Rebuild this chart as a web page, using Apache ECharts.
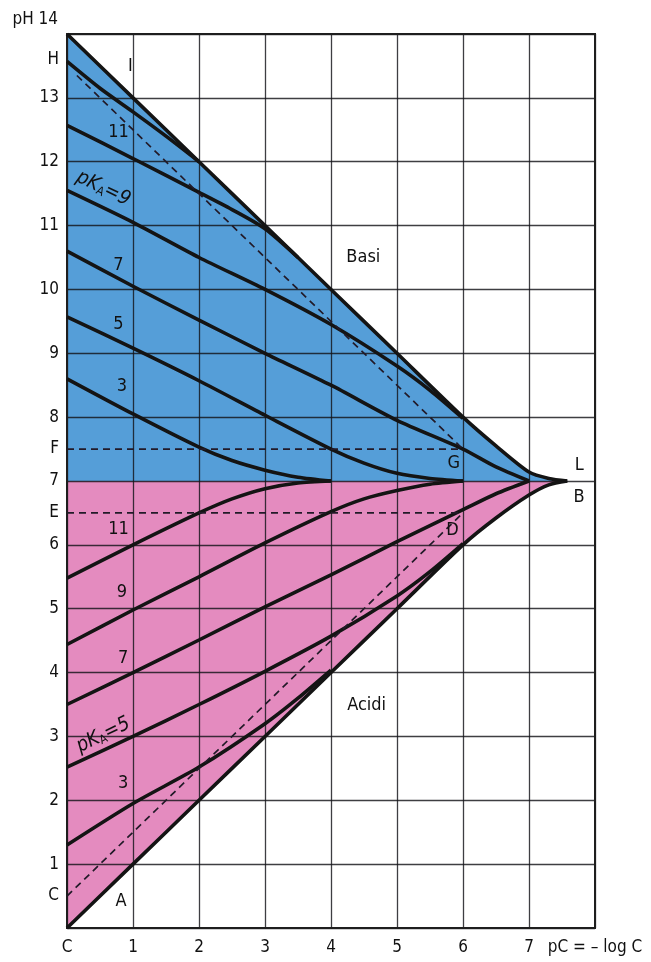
<!DOCTYPE html>
<html>
<head>
<meta charset="utf-8">
<script src="https://cdn.jsdelivr.net/npm/echarts@6/dist/echarts.min.js"></script>
<style>html,body{margin:0;padding:0;background:#fff}#main{width:651px;height:962px}</style>
</head>
<body>
<div id="main"></div>
<script>
// pH di soluzioni di acidi e basi in funzione di pC = -log C
var xTickValues = [0, 1, 2, 3, 4, 5, 6, 7, 8];
var xTickLabels = ['C', '1', '2', '3', '4', '5', '6', '7', 'pC = \u2013 log C'];
var yTickValues = [0.5, 1, 2, 3, 4, 5, 6, 6.5, 7, 7.5, 8, 9, 10, 11, 12, 13, 13.6];
var yTickLabels = ['C', '1', '2', '3', '4', '5', '6', 'E', '7', 'F', '8', '9', '10', '11', '12', '13', 'H'];

// boundaries: strong base (top) and strong acid (bottom)
var strongBase = [[0,14],[1,13],[2,12],[3,11],[4,10],[5,9],[6,8],[6.5,7.55],[7,7.14],[7.3,7.04],[7.58,7]];
var strongAcid = [[0,0],[1,1],[2,2],[3,3],[4,4],[5,5],[6,6],[6.5,6.42],[7,6.78],[7.3,6.94],[7.58,7]];

// weak bases (pKA of the conjugate acid)
var base13 = [[0,13.57],[0.5,13.15],[1,12.78],[1.5,12.4],[2,12]];
var base11 = [[0,12.57],[1,12.05],[2,11.52],[2.5,11.25],[3,10.95],[3.5,10.5]];
var base9 = [[0,11.55],[1,11.05],[2,10.5],[3,10],[4,9.45],[5,8.8],[5.5,8.42],[6,7.98]];
var base7 = [[0,10.6],[1,10.05],[2,9.52],[3,9],[4,8.5],[5,7.95],[6,7.5],[6.5,7.22],[7,7]];
var base5 = [[0,9.57],[1,9.08],[2,8.57],[3,8.03],[4,7.5],[4.5,7.28],[5,7.12],[5.5,7.04],[6,7]];
var base3 = [[0,8.6],[1,8.05],[2,7.53],[2.5,7.32],[3,7.17],[3.5,7.06],[4,7]];

// weak acids
var acid11 = [[0,5.48],[1,6],[2,6.5],[2.5,6.72],[3,6.88],[3.5,6.97],[4,7]];
var acid9 = [[0,4.44],[1,4.98],[2,5.5],[3,6.03],[4,6.52],[4.5,6.72],[5,6.85],[5.5,6.95],[6,7]];
var acid7 = [[0,3.5],[1,4],[2,4.51],[3,5.03],[4,5.53],[5,6.05],[6,6.55],[6.5,6.8],[7,7]];
var acid5 = [[0,2.52],[1,3],[2,3.5],[3,4.02],[4,4.57],[5,5.2],[5.5,5.58],[6,6.02]];
var acid3 = [[0,1.3],[1,1.95],[2,2.52],[3,3.2],[3.5,3.6],[4,4.04]];

// dashed construction lines
var lineHG = [[0.15,13.35],[6,7.5]];
var lineFG = [[0,7.5],[6,7.5]];
var lineCD = [[0,0.5],[6,6.5]];
var lineED = [[0,6.5],[6,6.5]];

// text inside the plot: x, pH, text, rotation
var notes = [
  [0.96, 13.5, 'I', 0], [0.78, 12.46, '11', 0], [0.55, 11.58, 'pKA=9', -26],
  [0.78, 10.38, '7', 0], [0.78, 9.46, '5', 0], [0.83, 8.48, '3', 0],
  [4.49, 10.5, 'Basi', 0], [5.86, 7.28, 'G', 0], [7.76, 7.25, 'L', 0],
  [7.76, 6.75, 'B', 0], [5.84, 6.22, 'D', 0],
  [0.78, 6.24, '11', 0], [0.83, 5.26, '9', 0], [0.85, 4.22, '7', 0],
  [0.55, 3.02, 'pKA=5', 26], [0.85, 2.27, '3', 0], [4.54, 3.48, 'Acidi', 0],
  [0.82, 0.42, 'A', 0]
];

var FONT = "'Liberation Sans Narrow', 'DejaVu Sans Condensed', 'Roboto', sans-serif";
var INK = '#141414';

function curve(data) {
  return {
    type: 'line', data: data, z: 5, symbol: 'none', smooth: 0.25,
    lineStyle: {color: INK, width: 3.6}, silent: true
  };
}
function dashed(data) {
  return {
    type: 'line', data: data, z: 5, symbol: 'none',
    lineStyle: {color: '#221a28', width: 1.7, type: [7, 5]}, silent: true
  };
}
function fill(data, color) {
  return {
    type: 'line', data: data, z: 1, symbol: 'none', smooth: 0.25,
    lineStyle: {width: 0, opacity: 0}, areaStyle: {color: color, opacity: 1, origin: 7}, silent: true
  };
}

function noteLabel(t) {
  if (t.indexOf('pKA') === 0) {
    return '{i|pK}{s|A}{t|' + t.slice(3) + '}';
  }
  return t;
}

var chart = echarts.init(document.getElementById('main'));
var option = {
  animation: false,
  backgroundColor: '#fff',
  grid: {left: 67, right: 56, top: 34, bottom: 34, show: true, z: 4,
         borderColor: '#1e1e1e', borderWidth: 2, backgroundColor: 'transparent'},
  xAxis: {
    type: 'value', min: 0, max: 8, interval: 1, z: 3,
    axisLine: {show: false}, axisTick: {show: false},
    splitLine: {show: true, lineStyle: {color: 'rgba(20,20,25,0.82)', width: 1.3}},
    axisLabel: {
      customValues: xTickValues, margin: 11, color: '#111', fontSize: 17, fontFamily: FONT,
      formatter: function (v) { return xTickLabels[xTickValues.indexOf(v)]; }
    }
  },
  yAxis: {
    type: 'value', min: 0, max: 14, interval: 1, z: 3,
    name: 'pH 14', nameLocation: 'end', nameGap: 6,
    nameTextStyle: {align: 'right', verticalAlign: 'bottom', padding: [0, 9, 0, 0],
                    color: '#111', fontSize: 17, fontFamily: FONT},
    axisLine: {show: false}, axisTick: {show: false},
    splitLine: {show: true, lineStyle: {color: 'rgba(20,20,25,0.82)', width: 1.3}},
    axisLabel: {
      customValues: yTickValues, margin: 8, color: '#111', fontSize: 17, fontFamily: FONT,
      formatter: function (v) { return yTickLabels[yTickValues.indexOf(v)]; }
    }
  },
  series: [
    fill(strongBase, '#559ed8'),
    fill(strongAcid, '#e48bbf'),
    curve(strongBase), curve(strongAcid),
    curve(base13), curve(base11), curve(base9), curve(base7), curve(base5), curve(base3),
    curve(acid11), curve(acid9), curve(acid7), curve(acid5), curve(acid3),
    dashed(lineHG), dashed(lineFG), dashed(lineCD), dashed(lineED),
    {
      type: 'scatter', z: 6, symbol: 'circle', symbolSize: 2, silent: true,
      itemStyle: {color: '#000', opacity: 0},
      data: notes.map(function (n) {
        return {
          value: [n[0], n[1]],
          label: {
            show: true, position: [1, 1], align: 'center', verticalAlign: 'middle',
            formatter: noteLabel(n[2]), rotate: n[3], opacity: 1,
            color: '#111', fontSize: 18, fontFamily: FONT, textBorderWidth: 0,
            rich: {
              i: {fontSize: 20, fontStyle: 'italic', fontFamily: FONT, color: '#111'},
              s: {fontSize: 12, fontFamily: FONT, color: '#111', padding: [9, 0, 0, 0]},
              t: {fontSize: 20, fontStyle: 'italic', fontFamily: FONT, color: '#111'}
            }
          }
        };
      })
    }
  ]
};
chart.setOption(option);
</script>
</body>
</html>
